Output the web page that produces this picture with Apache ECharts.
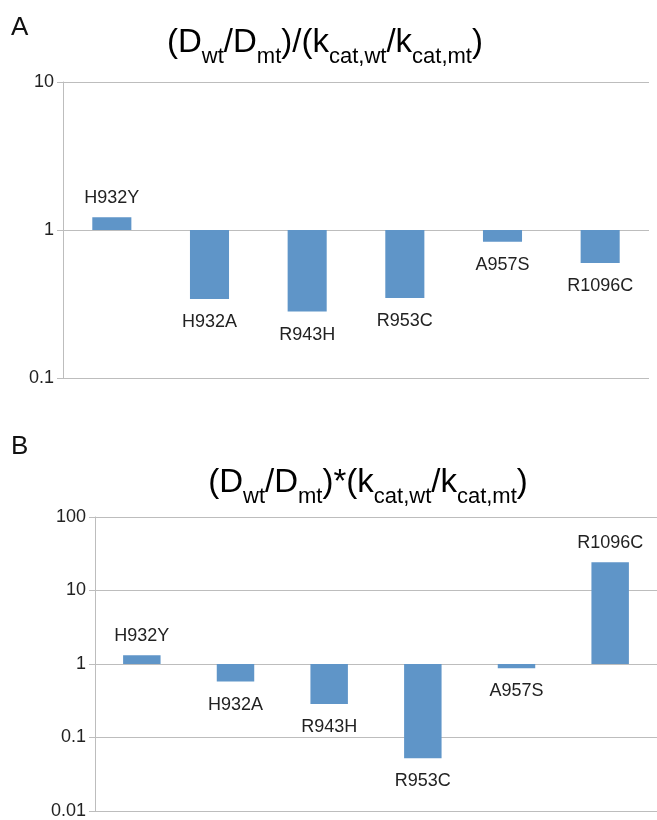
<!DOCTYPE html>
<html><head><meta charset="utf-8">
<script src="https://cdn.jsdelivr.net/npm/echarts@6/dist/echarts.min.js"></script>
<style>html,body{margin:0;padding:0;background:#fff}#c{width:657px;height:820px}</style>
</head><body><div id="c"></div>
<script>
const categories = ['H932Y', 'H932A', 'R943H', 'R953C', 'A957S', 'R1096C'];
const valuesA = [1.22, 0.342, 0.281, 0.347, 0.834, 0.598];
const valuesB = [1.32, 0.577, 0.286, 0.052, 0.875, 24.2];
const rangeA = [0.1, 10];
const rangeB = [0.01, 100];

const FONT = "'Liberation Sans', Arial, Helvetica, sans-serif";
const BAR = '#5f95c8';
const GRID = '#bdbdbd';

const titleRich = {
  m: {fontSize: 33, fontFamily: FONT, color: '#111', padding: [0, 0, 9, 0], verticalAlign: 'bottom'},
  s: {fontSize: 22, fontFamily: FONT, color: '#111', verticalAlign: 'bottom'}
};
const titleA = '{m|(D}{s|wt}{m|/D}{s|mt}{m|)/(k}{s|cat,wt}{m|/k}{s|cat,mt}{m|)}';
const titleB = '{m|(D}{s|wt}{m|/D}{s|mt}{m|)*(k}{s|cat,wt}{m|/k}{s|cat,mt}{m|)}';

function labelled(vals) {
  return vals.map(v => ({
    value: v,
    label: {position: v >= 1 ? 'top' : 'bottom', distance: v >= 1 ? 10 : 14}
  }));
}
function yAx(idx, range) {
  return {
    type: 'log', logBase: 10, gridIndex: idx, min: range[0], max: range[1],
    axisLine: {show: true, lineStyle: {color: GRID}},
    axisTick: {show: true, length: 6, lineStyle: {color: GRID}},
    splitLine: {show: true, lineStyle: {color: GRID}},
    minorTick: {show: false}, minorSplitLine: {show: false},
    axisLabel: {color: '#222', fontSize: 18, fontFamily: FONT, margin: 9}
  };
}
function xAx(idx) {
  return {
    type: 'category', gridIndex: idx, data: categories,
    axisLine: {show: false}, axisTick: {show: false}, axisLabel: {show: false}
  };
}
function ser(idx, vals) {
  return {
    type: 'bar', xAxisIndex: idx, yAxisIndex: idx, data: labelled(vals),
    barWidth: '40%', itemStyle: {color: BAR},
    label: {show: true, formatter: p => categories[p.dataIndex], color: '#222', fontSize: 18, fontFamily: FONT},
    animation: false
  };
}

const chart = echarts.init(document.getElementById('c'), null, {renderer: 'canvas'});
chart.setOption({
  animation: false,
  backgroundColor: '#fff',
  grid: [
    {left: 63, right: 8, top: 82, height: 296},
    {left: 95, right: 0, top: 517, height: 295}
  ],
  xAxis: [xAx(0), xAx(1)],
  yAxis: [yAx(0, rangeA), yAx(1, rangeB)],
  series: [ser(0, valuesA), ser(1, valuesB)],
  graphic: [
    {type: 'text', x: 11, y: 28, style: {text: 'A', font: '26px ' + FONT, fill: '#111', verticalAlign: 'middle'}},
    {type: 'text', x: 11, y: 447, style: {text: 'B', font: '26px ' + FONT, fill: '#111', verticalAlign: 'middle'}},
    {type: 'text', x: 325, y: 47, style: {text: titleA, rich: titleRich, align: 'center', verticalAlign: 'middle'}},
    {type: 'text', x: 368, y: 487, style: {text: titleB, rich: titleRich, align: 'center', verticalAlign: 'middle'}}
  ]
});
</script>
</body></html>
